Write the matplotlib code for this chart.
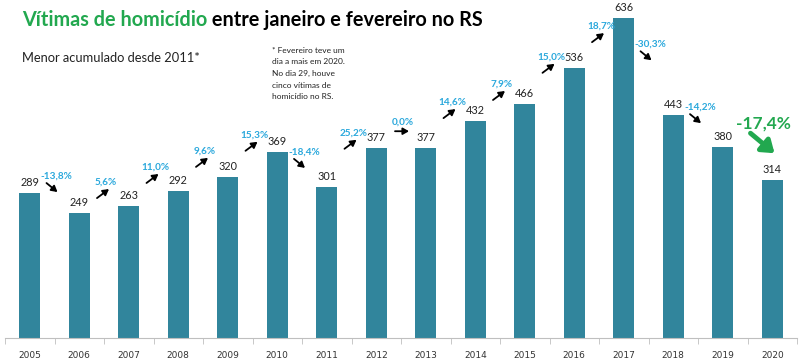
import matplotlib.pyplot as plt
import numpy as np

plt.rcParams['font.family'] = ['Lato', 'DejaVu Sans']

years = ['2005', '2006', '2007', '2008', '2009', '2010', '2011', '2012',
         '2013', '2014', '2015', '2016', '2017', '2018', '2019', '2020']
victims = [289, 249, 263, 292, 320, 369, 301, 377,
           377, 432, 466, 536, 636, 443, 380, 314]

# height of each percentage label (data units), one per year after 2005
label_y = [322, 310, 340, 372, 404, 370, 408, 429,
           469, 505, 559, 620, 584, 459, 427]

bar_color = '#31859C'
pct_color = '#2AA8DC'
green = '#22A84F'

fig = plt.figure(figsize=(8, 3.63), dpi=100)
ax = fig.add_axes([5 / 800, 25 / 363, 792 / 800, 338 / 363])

x = np.arange(len(years))
ax.bar(x, victims, width=0.42, color=bar_color, zorder=2)
ax.set_xlim(-0.5, len(years) - 0.5)
ax.set_ylim(0, 672)

for xi, v in zip(x, victims):
    ax.text(xi, v + 10, str(v), ha='center', va='bottom', fontsize=7.8,
            color='#222222')

# x-axis
for s in ['top', 'right', 'left']:
    ax.spines[s].set_visible(False)
ax.spines['bottom'].set_color('#BFBFBF')
ax.set_yticks([])
ax.set_xticks(x)
ax.set_xticklabels(years, fontsize=6.5, color='#333333',
                   family=['Liberation Sans Narrow', 'DejaVu Sans'])
ax.tick_params(axis='x', length=0, pad=9)
ax.set_xticks(np.arange(-0.5, len(years)), minor=True)
ax.tick_params(axis='x', which='minor', length=4, color='#BFBFBF')

px = 1 / 49.5   # one pixel in x data units
py = 672 / 338  # one pixel in y data units

for i in range(1, len(victims)):
    prev, cur = victims[i - 1], victims[i]
    pct = (cur - prev) / prev * 100
    txt = f'{pct:.1f}%'.replace('.', ',')
    xm = i - 0.5
    ly = label_y[i - 1]
    if i == len(victims) - 1:
        ax.text(xm + 16 * px, ly, txt, ha='center', va='center', fontsize=12.5,
                fontweight='bold', color=green)
        ax.annotate('', xy=(xm + 27 * px, ly - 30 * py),
                    xytext=(xm + 3 * px, ly - 10 * py),
                    arrowprops=dict(arrowstyle='-|>,head_width=0.5,head_length=0.7',
                                    color=green, lw=3.5, shrinkA=0, shrinkB=0))
        continue
    ax.text(xm + 2 * px, ly, txt, ha='center', va='center', fontsize=7.2,
            fontweight='bold', color=pct_color)
    if pct > 0:
        start = (xm - 7 * px, ly - 16 * py)
        end = (xm + 5 * px, ly - 7 * py)
    elif pct < 0:
        start = (xm - 8 * px, ly - 7 * py)
        end = (xm + 3 * px, ly - 16 * py)
    else:
        start = (xm - 6 * px, ly - 9 * py)
        end = (xm + 8 * px, ly - 9 * py)
    ax.annotate('', xy=end, xytext=start,
                arrowprops=dict(arrowstyle='-|>,head_width=0.2,head_length=0.35',
                                color='black', lw=1.3, shrinkA=0, shrinkB=0))

t1 = fig.text(22 / 800, 1 - 20 / 363, 'Vítimas de homicídio', fontsize=14.3,
              fontweight='bold', color=green, va='center', ha='left')
ax.annotate(' entre janeiro e fevereiro no RS', xy=(1, 0.5), xycoords=t1,
            fontsize=14.3, fontweight='bold', color='black', va='center',
            ha='left', annotation_clip=False)
fig.text(22 / 800, 1 - 58 / 363, 'Menor acumulado desde 2011*', fontsize=9.3,
         color='#222222', va='center', ha='left')
fig.text(272 / 800, 1 - 47 / 363,
         '* Fevereiro teve um\ndia a mais em 2020.\nNo dia 29, houve\n'
         'cinco vítimas de\nhomicídio no RS.',
         fontsize=6, color='#222222', va='top', ha='left', linespacing=1.75)

fig.savefig('out.png', dpi=100)
